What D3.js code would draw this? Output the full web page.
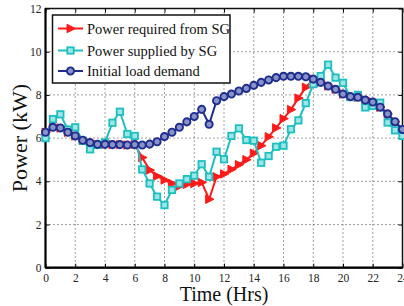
<!DOCTYPE html>
<html>
<head>
<meta charset="utf-8">
<script src="https://cdn.jsdelivr.net/npm/d3@7"></script>
<style>
  body { margin: 0; background: #fff; }
  svg { display: block; }
  text { font-family: "Liberation Serif", "DejaVu Serif", serif !important; }
</style>
</head>
<body>
<svg id="chart" width="404" height="306"></svg>
<script>
// time of day (hrs), one reading every half hour
var hours = [0, 0.5, 1, 1.5, 2, 2.5, 3, 3.5, 4, 4.5, 5, 5.5, 6, 6.5, 7, 7.5, 8, 8.5, 9, 9.5,
  10, 10.5, 11, 11.5, 12, 12.5, 13, 13.5, 14, 14.5, 15, 15.5, 16, 16.5, 17, 17.5, 18, 18.5, 19, 19.5,
  20, 20.5, 21, 21.5, 22, 22.5, 23, 23.5, 24];

var initialLoad = [6.27, 6.5, 6.47, 6.27, 6.1, 5.9, 5.79, 5.71, 5.71, 5.7, 5.7, 5.68, 5.7, 5.68, 5.72, 5.83, 6.07, 6.27, 6.5, 6.75,
  7.0, 7.33, 6.64, 7.73, 7.92, 8.04, 8.18, 8.3, 8.44, 8.58, 8.69, 8.8, 8.86, 8.86, 8.86, 8.84, 8.73, 8.58, 8.41, 8.26,
  8.04, 7.92, 7.89, 7.76, 7.67, 7.43, 7.12, 6.76, 6.4];

var requiredSG = [6.27, 6.5, 6.47, 6.27, 6.1, 5.9, 5.79, 5.71, 5.71, 5.7, 5.7, 5.68, 5.7, 5.1, 4.52, 4.24, 4.06, 3.9, 3.78, 3.86,
  3.9, 3.95, 3.17, 4.21, 4.34, 4.55, 4.77, 5.0, 5.3, 5.65, 6.06, 6.47, 6.9, 7.32, 7.85, 8.35, 8.73, 8.58, 8.41, 8.26,
  8.04, 7.92, 7.89, 7.76, 7.67, 7.43, 7.12, 6.76, 6.4];

var suppliedSG = [6.0, 6.88, 7.1, 6.4, 6.5, 5.88, 5.48, 5.68, 5.8, 6.71, 7.22, 6.19, 6.1, 4.55, 3.9, 3.29, 2.9, 3.6, 3.9, 4.1,
  4.26, 4.79, 4.21, 5.37, 5.02, 6.1, 6.45, 5.91, 5.88, 4.86, 5.17, 5.6, 5.65, 6.41, 6.82, 7.62, 8.5, 8.87, 9.4, 8.8,
  8.56, 7.9, 8.0, 7.42, 7.49, 7.64, 6.72, 6.36, 6.1];

var xTicks = [0, 2, 4, 6, 8, 10, 12, 14, 16, 18, 20, 22, 24];
var yTicks = [0, 2, 4, 6, 8, 10, 12];

var series = [
  {name: "Power required from SG", values: requiredSG, color: "#ff1a1a", marker: "tri"},
  {name: "Power supplied by SG", values: suppliedSG, color: "#1dbfc0", marker: "square"},
  {name: "Initial load demand", values: initialLoad, color: "#1f2e8e", marker: "circle"}
];

var svg = d3.select("#chart");
var plotL = 45.5, plotR = 402.5, plotT = 8.5, plotB = 267.7;

var x = d3.scaleLinear().domain([0, 24]).range([plotL, plotR]);
var y = d3.scaleLinear().domain([0, 12]).range([plotB, plotT]);

// dotted grid
var grid = svg.append("g").attr("stroke", "#444").attr("stroke-width", 1).attr("stroke-dasharray", "1,3");
grid.selectAll(".gx").data(xTicks.slice(1, -1)).enter().append("line")
  .attr("x1", function(d) { return x(d); }).attr("x2", function(d) { return x(d); })
  .attr("y1", plotT).attr("y2", plotB);
grid.selectAll(".gy").data(yTicks.slice(1, -1)).enter().append("line")
  .attr("y1", function(d) { return y(d); }).attr("y2", function(d) { return y(d); })
  .attr("x1", plotL).attr("x2", plotR);

// axes with inward ticks
function styleAxis(g) {
  g.attr("font-family", null);
  g.select(".domain").remove();
  g.selectAll(".tick line").attr("stroke", "#000").attr("stroke-width", 1);
  g.selectAll(".tick text").attr("font-size", 11.5).attr("fill", "#222");
}
svg.append("g").attr("transform", "translate(0," + plotB + ")")
  .call(d3.axisBottom(x).tickValues(xTicks).tickSize(-4).tickPadding(6).tickFormat(d3.format("d")))
  .call(styleAxis);
svg.append("g").attr("transform", "translate(0," + plotT + ")")
  .call(d3.axisTop(x).tickValues(xTicks).tickSize(-4).tickFormat(""))
  .call(styleAxis);
svg.append("g").attr("transform", "translate(" + plotL + ",0)")
  .call(d3.axisLeft(y).tickValues(yTicks).tickSize(-4).tickPadding(4).tickFormat(d3.format("d")))
  .call(styleAxis);
svg.append("g").attr("transform", "translate(" + plotR + ",0)")
  .call(d3.axisRight(y).tickValues(yTicks).tickSize(-4).tickFormat(""))
  .call(styleAxis);

// box
svg.append("rect").attr("x", plotL).attr("y", plotT).attr("width", plotR - plotL).attr("height", plotB - plotT)
  .attr("fill", "none").attr("stroke", "#111").attr("stroke-width", 1.5);
svg.append("line").attr("x1", plotL).attr("x2", plotR).attr("y1", plotB).attr("y2", plotB)
  .attr("stroke", "#000").attr("stroke-width", 2.2);
svg.append("line").attr("x1", plotL).attr("x2", plotL).attr("y1", plotT).attr("y2", plotB)
  .attr("stroke", "#000").attr("stroke-width", 2);

function drawMarker(g, type, color) {
  if (type === "tri") {
    g.append("path").attr("d", "M-3.5,-4.2L4.8,0L-3.5,4.2Z").attr("fill", color).attr("stroke", color).attr("stroke-width", 1);
  } else if (type === "square") {
    g.append("rect").attr("x", -3.2).attr("y", -3.2).attr("width", 6.4).attr("height", 6.4)
      .attr("fill", "#9ee6e6").attr("stroke", color).attr("stroke-width", 1.8);
  } else {
    g.append("circle").attr("r", 3.6).attr("fill", "#8a93c8").attr("stroke", color).attr("stroke-width", 1.9);
  }
}

var line = d3.line()
  .x(function(d, i) { return x(hours[i]); })
  .y(function(d) { return y(d); });

series.forEach(function(s) {
  var g = svg.append("g");
  g.append("path").datum(s.values).attr("d", line)
    .attr("fill", "none").attr("stroke", s.color).attr("stroke-width", 2);
  s.values.forEach(function(v, i) {
    var m = g.append("g").attr("transform", "translate(" + x(hours[i]) + "," + y(v) + ")");
    drawMarker(m, s.marker, s.color);
  });
});

// legend
var lg = svg.append("g");
lg.append("rect").attr("x", 52.5).attr("y", 15).attr("width", 177.5).attr("height", 68)
  .attr("fill", "#fff").attr("stroke", "#111").attr("stroke-width", 1.5);
var rows = [28.5, 50.5, 71];
series.forEach(function(s, i) {
  var row = lg.append("g").attr("transform", "translate(0," + rows[i] + ")");
  row.append("line").attr("x1", 58).attr("x2", 83).attr("y1", 0).attr("y2", 0)
    .attr("stroke", s.color).attr("stroke-width", 2);
  drawMarker(row.append("g").attr("transform", "translate(70.5,0)"), s.marker, s.color);
  row.append("text").attr("x", 87).attr("y", 0).attr("dy", "0.35em")
    .attr("font-size", 14.5).attr("fill", "#111").text(s.name);
});

// axis titles
svg.append("text").attr("x", (plotL + plotR) / 2).attr("y", 301).attr("text-anchor", "middle")
  .attr("font-size", 20).attr("fill", "#111").text("Time (Hrs)");
svg.append("text").attr("transform", "translate(27," + ((plotT + plotB) / 2) + ") rotate(-90)")
  .attr("text-anchor", "middle").attr("font-size", 22).attr("fill", "#111").text("Power (kW)");
</script>
</body>
</html>
